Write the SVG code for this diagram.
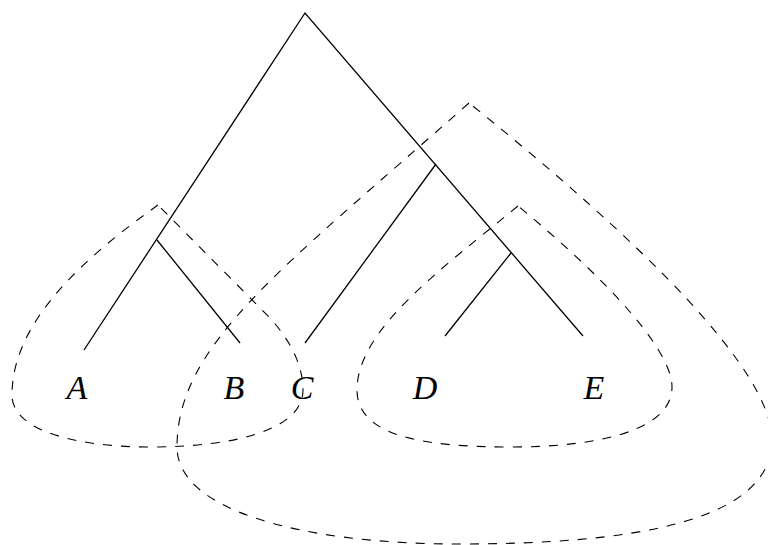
<svg xmlns="http://www.w3.org/2000/svg" width="768" height="545" viewBox="0 0 768 545">
<style>
.tree{stroke:#000;stroke-width:1.3;fill:none;stroke-linecap:butt}
.loop{stroke:#000;stroke-width:1.1;fill:none;stroke-dasharray:9 9}
.lbl{font-family:"Liberation Serif","Times New Roman",serif;font-style:italic;font-size:34px;fill:#000;text-anchor:middle}
</style>
<rect width="768" height="545" fill="#fff"/>
<g id="connectors">
<polyline class="tree" points="84,350 305,13 583,336"/>
<line class="tree" x1="157" y1="240" x2="240" y2="343"/>
<line class="tree" x1="436" y1="164" x2="305" y2="343"/>
<line class="tree" x1="511" y1="253" x2="445" y2="336"/>
</g>
<g id="loop-AB">
<path class="loop" d="M158,205 C88,255 12,320 12,395 C12,432 80,447 150,447 C240,447 303,428 303,390 C303,365 290,340 270,318 Z"/>
</g>
<g id="loop-DE">
<path class="loop" d="M518,206 C440,270 357,330 357,390 C357,435 420,447 510,447 C600,447 672,430 672,387 C672,345 590,265 518,206 Z"/>
</g>
<g id="loop-BCDE">
<path class="loop" d="M469,103 C280,270 177,345 177,447 C177,510 300,544 460,544 C620,544 772,525 772,440 C772,370 640,240 469,103 Z"/>
</g>
<g id="node-A"><text class="lbl" x="77" y="399">A</text></g>
<g id="node-B"><text class="lbl" x="234" y="399">B</text></g>
<g id="node-C"><text class="lbl" x="302" y="399">C</text></g>
<g id="node-D"><text class="lbl" x="425" y="399">D</text></g>
<g id="node-E"><text class="lbl" x="594" y="399">E</text></g>
</svg>
